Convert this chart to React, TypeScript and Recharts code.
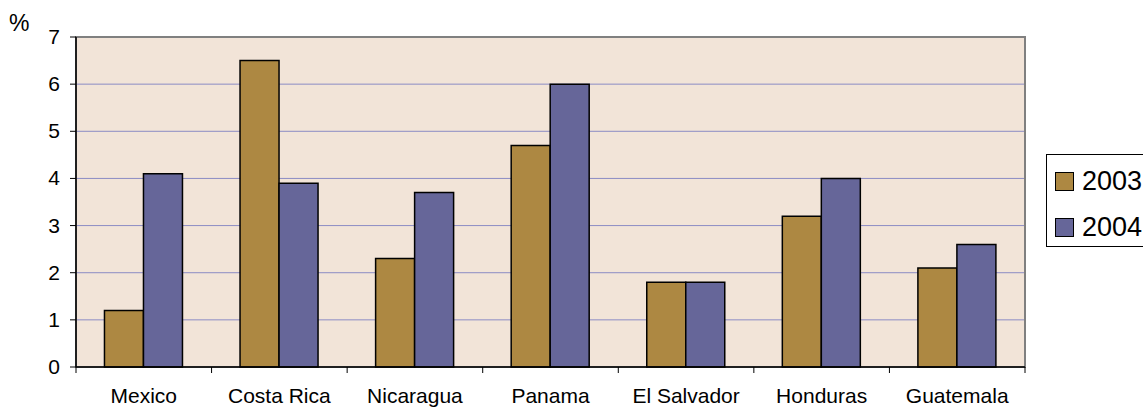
import React from 'react';
import {
  BarChart,
  Bar,
  XAxis,
  YAxis,
  CartesianGrid,
  ReferenceArea,
} from 'recharts';

// Growth by country, in percent
const countries = ['Mexico', 'Costa Rica', 'Nicaragua', 'Panama', 'El Salvador', 'Honduras', 'Guatemala'];
const values2003 = [1.2, 6.5, 2.3, 4.7, 1.8, 3.2, 2.1];
const values2004 = [4.1, 3.9, 3.7, 6.0, 1.8, 4.0, 2.6];
const seriesNames = ['2003', '2004'];
const yTicks = [0, 1, 2, 3, 4, 5, 6, 7];

const COLORS = ['#AD8842', '#666699'];
const FONT = 'Liberation Sans, Arial, sans-serif';

const data = countries.map((name, i) => ({
  name,
  y2003: values2003[i],
  y2004: values2004[i],
}));

// Category label plus tick marks at the band boundaries
const CategoryTick = (props: any) => {
  const { x, y, payload, index, visibleTicksCount } = props;
  const half = payload.offset || 0;
  const last = index === visibleTicksCount - 1;
  return (
    <g>
      <line x1={x - half} y1={y - 8} x2={x - half} y2={y - 2} stroke="#000" strokeWidth={1} />
      {last && <line x1={x + half} y1={y - 8} x2={x + half} y2={y - 2} stroke="#000" strokeWidth={1} />}
      <text x={x} y={y + 28} textAnchor="middle" fontFamily={FONT} fontSize={21} fill="#000">
        {payload.value}
      </text>
    </g>
  );
};

// Value label on the left axis
const ValueTick = (props: any) => {
  const { x, y, payload } = props;
  return (
    <text x={x} y={y} dy={7} textAnchor="end" fontFamily={FONT} fontSize={21} fill="#000">
      {payload.value}
    </text>
  );
};

export default function App() {
  return (
    <div style={{ position: 'absolute', left: 0, top: 0, width: 1143, height: 408, overflow: 'hidden', background: '#fff' }}>
      <BarChart
        width={1143}
        height={408}
        data={data}
        margin={{ top: 37, right: 118, bottom: 0, left: 0 }}
        barCategoryGap="21%"
        barGap={0}
      >
        <CartesianGrid vertical={false} fill="#F2E4D8" stroke="#8C8CC4" strokeWidth={1} fillOpacity={1} />
        <ReferenceArea y1={0} y2={7} fill="none" stroke="#808080" strokeWidth={2} ifOverflow="visible" />
        <XAxis
          dataKey="name"
          height={41}
          tickLine={false}
          axisLine={{ stroke: '#000', strokeWidth: 1.5 }}
          tick={<CategoryTick />}
          interval={0}
        />
        <YAxis
          width={76}
          domain={[0, 7]}
          ticks={yTicks}
          interval={0}
          tickSize={6}
          tickMargin={10}
          axisLine={{ stroke: '#000', strokeWidth: 1.5 }}
          tickLine={{ stroke: '#000' }}
          tick={<ValueTick />}
        />
        <Bar dataKey="y2003" name={seriesNames[0]} fill={COLORS[0]} stroke="#000" strokeWidth={1.5} isAnimationActive={false} />
        <Bar dataKey="y2004" name={seriesNames[1]} fill={COLORS[1]} stroke="#000" strokeWidth={1.5} isAnimationActive={false} />
      </BarChart>

      <div style={{ position: 'absolute', left: 9, top: 10, fontFamily: FONT, fontSize: 23, lineHeight: '26px', color: '#000' }}>%</div>

      <div
        style={{
          position: 'absolute',
          left: 1046,
          top: 154,
          width: 130,
          height: 93,
          border: '1px solid #000',
          background: '#fff',
          boxSizing: 'border-box',
          fontFamily: FONT,
          fontSize: 27,
        }}
      >
        {seriesNames.map((s, i) => (
          <div key={s} style={{ position: 'absolute', left: 8, top: 11 + i * 46, display: 'flex', alignItems: 'center', height: 30 }}>
            <span
              style={{
                display: 'inline-block',
                width: 19,
                height: 19,
                background: COLORS[i],
                border: '1.5px solid #000',
                boxSizing: 'border-box',
                marginRight: 8,
              }}
            />
            <span style={{ lineHeight: '30px' }}>{s}</span>
          </div>
        ))}
      </div>
    </div>
  );
}
